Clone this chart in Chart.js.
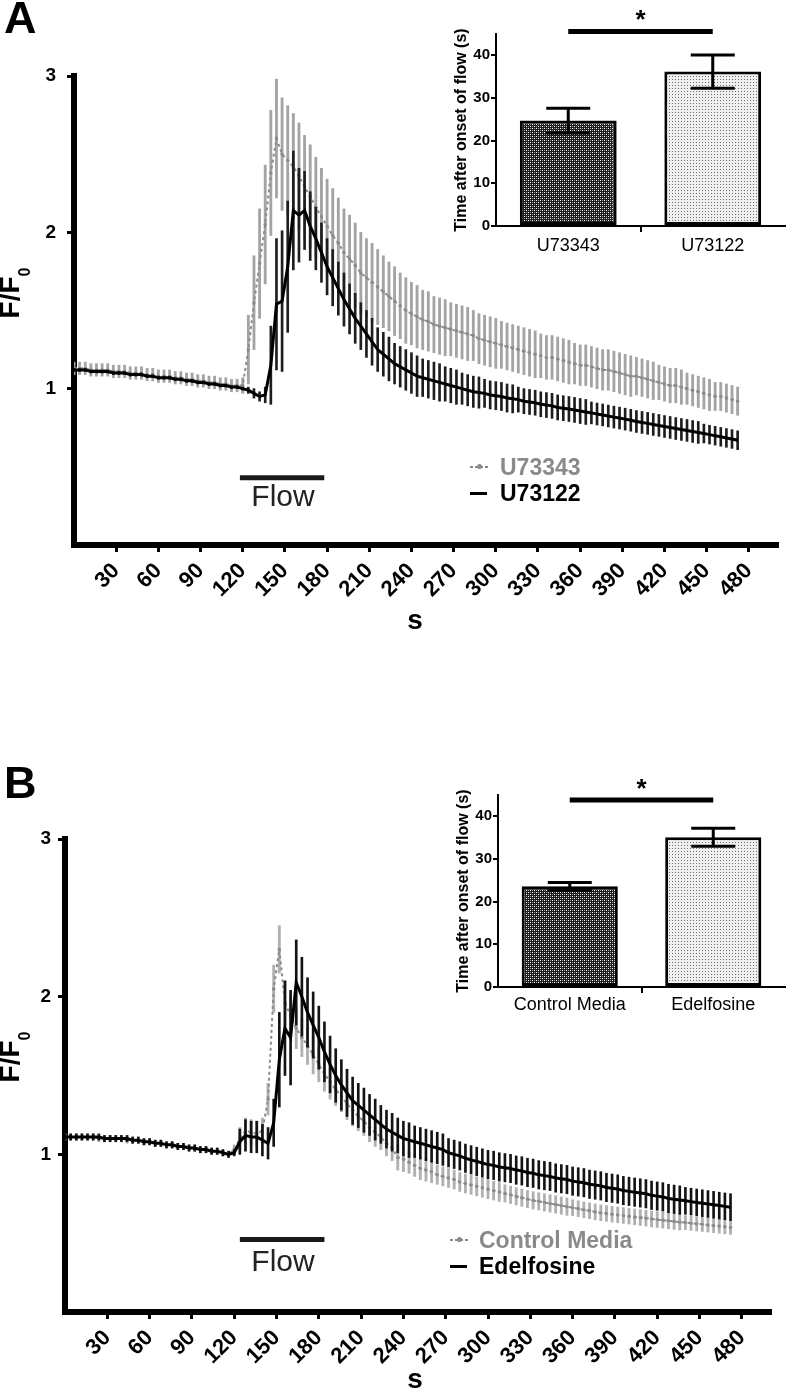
<!DOCTYPE html>
<html>
<head>
<meta charset="utf-8">
<title>F/F0 after flow</title>
<script src="https://cdn.jsdelivr.net/npm/chart.js@4.4.1/dist/chart.umd.min.js"></script>
<style>
  html, body { margin: 0; padding: 0; background: #fff; }
  body { width: 787px; height: 1390px; position: relative; overflow: hidden;
         font-family: "Liberation Sans", Arial, sans-serif; }
  canvas { position: absolute; }
  .txt { position: absolute; line-height: 1; white-space: nowrap; color: #000; }
  .letter { font-size: 45px; font-weight: bold; }
  .ytitle { font-size: 28px; font-weight: bold; line-height: 32px;
            transform: translate(-50%, -50%) rotate(-90deg); }
  .ytitle span { font-size: 16px; position: relative; top: 11px; }
  .xtitle { font-size: 28px; font-weight: bold; transform: translateX(-50%); }
  .flow { font-size: 30px; color: #222; transform: translateX(-50%); }
  .leg { font-size: 23px; font-weight: bold; }
  .mkg { position: absolute; width: 18px; height: 2px;
         background: repeating-linear-gradient(90deg, #8a8a8a 0 3px, transparent 3px 5px); }
  .mkg::after { content: ""; position: absolute; left: 7px; top: -2px; width: 5px; height: 5px;
                border-radius: 50%; background: #8a8a8a; }
  .mkb { position: absolute; width: 17px; height: 3px; background: #000; }
</style>
</head>
<body>
<canvas id="mainA" style="left:0;top:0" width="787" height="700"></canvas>
<canvas id="insetA" style="left:440px;top:0" width="347" height="270"></canvas>
<canvas id="mainB" style="left:0;top:760px" width="787" height="630"></canvas>
<canvas id="insetB" style="left:440px;top:760px" width="347" height="270"></canvas>

<div class="txt letter" style="left:4px;top:-5px">A</div>
<div class="txt ytitle" style="left:12px;top:293px">F/F<span>0</span></div>
<div class="txt xtitle" style="left:415px;top:606px">s</div>
<div class="txt flow" style="left:283px;top:481px">Flow</div>
<div class="mkg" style="left:470px;top:466px"></div>
<div class="txt leg" style="left:500px;top:456px;color:#8a8a8a">U73343</div>
<div class="mkb" style="left:470px;top:492px"></div>
<div class="txt leg" style="left:500px;top:482px">U73122</div>

<div class="txt letter" style="left:4px;top:760px">B</div>
<div class="txt ytitle" style="left:12px;top:1057px">F/F<span>0</span></div>
<div class="txt xtitle" style="left:415px;top:1365px">s</div>
<div class="txt flow" style="left:283px;top:1246px">Flow</div>
<div class="mkg" style="left:450px;top:1239px"></div>
<div class="txt leg" style="left:479px;top:1229px;color:#8a8a8a">Control Media</div>
<div class="mkb" style="left:450px;top:1265px"></div>
<div class="txt leg" style="left:479px;top:1255px">Edelfosine</div>

<script>
// time points (s) of the traces
const seconds = [0,4,8,12,16,20,24,28,32,36,
  40,44,48,52,56,60,64,68,72,76,
  80,84,88,92,96,100,104,108,112,116,
  120,124,128,132,136,140,144,148,152,156,
  160,164,168,172,176,180,184,188,192,196,
  200,204,208,212,216,220,224,228,232,236,
  240,244,248,252,256,260,264,268,272,276,
  280,284,288,292,296,300,304,308,312,316,
  320,324,328,332,336,340,344,348,352,356,
  360,364,368,372,376,380,384,388,392,396,
  400,404,408,412,416,420,424,428,432,436,
  440,444,448,452,456,460,464,468,472];

// panel A
const u73343Mean = [1.13,1.13,1.13,1.12,1.12,1.12,1.12,1.11,1.11,1.11,
  1.10,1.10,1.10,1.09,1.09,1.08,1.08,1.08,1.07,1.07,
  1.06,1.06,1.05,1.05,1.04,1.04,1.03,1.03,1.02,1.02,
  1.02,1.25,1.55,1.80,2.05,2.38,2.60,2.50,2.46,2.42,
  2.36,2.29,2.23,2.16,2.10,2.04,1.98,1.93,1.87,1.83,
  1.79,1.74,1.71,1.68,1.65,1.62,1.59,1.56,1.53,1.50,
  1.48,1.46,1.44,1.43,1.41,1.40,1.39,1.38,1.37,1.36,
  1.35,1.34,1.32,1.31,1.30,1.29,1.28,1.27,1.26,1.25,
  1.24,1.23,1.22,1.21,1.20,1.20,1.19,1.18,1.17,1.16,
  1.15,1.15,1.14,1.13,1.12,1.12,1.11,1.10,1.09,1.08,
  1.08,1.07,1.06,1.05,1.04,1.03,1.02,1.02,1.01,1.00,
  0.99,0.98,0.97,0.96,0.95,0.95,0.94,0.93,0.92];
const u73343Sem = [0.04,0.04,0.04,0.04,0.04,0.04,0.04,0.04,0.04,0.04,
  0.04,0.04,0.04,0.04,0.04,0.04,0.04,0.04,0.04,0.04,
  0.04,0.04,0.04,0.04,0.04,0.04,0.04,0.04,0.04,0.04,
  0.05,0.22,0.30,0.35,0.38,0.40,0.38,0.36,0.35,0.34,
  0.34,0.33,0.33,0.32,0.31,0.30,0.30,0.29,0.28,0.28,
  0.27,0.26,0.25,0.25,0.24,0.23,0.22,0.22,0.21,0.21,
  0.20,0.20,0.19,0.19,0.18,0.18,0.18,0.17,0.17,0.17,
  0.17,0.16,0.16,0.16,0.16,0.16,0.15,0.15,0.15,0.15,
  0.15,0.15,0.15,0.14,0.14,0.14,0.14,0.14,0.14,0.13,
  0.13,0.13,0.13,0.13,0.13,0.13,0.13,0.13,0.13,0.13,
  0.12,0.12,0.12,0.12,0.11,0.11,0.11,0.11,0.11,0.10,
  0.10,0.10,0.10,0.10,0.09,0.09,0.09,0.09,0.09];
const u73122Mean = [1.12,1.12,1.12,1.11,1.11,1.11,1.11,1.10,1.10,1.10,
  1.09,1.09,1.09,1.08,1.08,1.07,1.07,1.07,1.06,1.06,
  1.05,1.05,1.04,1.04,1.03,1.03,1.02,1.02,1.01,1.01,
  1.00,0.99,0.97,0.95,0.96,1.15,1.54,1.56,1.78,2.14,
  2.11,2.14,2.04,1.96,1.87,1.78,1.71,1.64,1.57,1.51,
  1.45,1.40,1.35,1.30,1.25,1.22,1.19,1.16,1.14,1.12,
  1.10,1.08,1.07,1.06,1.05,1.04,1.03,1.02,1.01,1.00,
  0.99,0.98,0.975,0.97,0.96,0.955,0.95,0.94,0.935,0.93,
  0.92,0.915,0.91,0.90,0.895,0.89,0.88,0.875,0.87,0.864,
  0.857,0.851,0.845,0.838,0.832,0.825,0.818,0.812,0.805,0.798,
  0.79,0.784,0.778,0.771,0.765,0.758,0.752,0.745,0.739,0.733,
  0.726,0.72,0.713,0.706,0.699,0.692,0.685,0.678,0.67];
const u73122Sem = [0.01,0.01,0.01,0.01,0.01,0.01,0.01,0.01,0.01,0.01,
  0.01,0.01,0.01,0.01,0.01,0.01,0.01,0.01,0.01,0.01,
  0.01,0.01,0.01,0.01,0.01,0.01,0.01,0.01,0.01,0.01,
  0.01,0.02,0.03,0.03,0.05,0.25,0.42,0.45,0.42,0.38,
  0.30,0.25,0.22,0.20,0.19,0.18,0.18,0.17,0.17,0.16,
  0.16,0.15,0.15,0.15,0.14,0.14,0.14,0.13,0.13,0.13,
  0.13,0.13,0.12,0.12,0.12,0.12,0.11,0.11,0.11,0.10,
  0.10,0.10,0.10,0.09,0.09,0.09,0.09,0.09,0.09,0.08,
  0.08,0.08,0.08,0.08,0.08,0.08,0.08,0.08,0.08,0.08,
  0.08,0.08,0.07,0.07,0.07,0.07,0.07,0.07,0.07,0.07,
  0.07,0.07,0.07,0.07,0.07,0.07,0.07,0.07,0.07,0.07,
  0.07,0.07,0.06,0.06,0.06,0.06,0.06,0.06,0.06];

// panel B
const controlMean = [1.11,1.11,1.11,1.11,1.11,1.11,1.10,1.10,1.10,1.10,
  1.10,1.09,1.09,1.09,1.08,1.08,1.07,1.07,1.06,1.06,
  1.05,1.05,1.04,1.04,1.03,1.03,1.02,1.02,1.01,1.00,
  1.03,1.10,1.15,1.14,1.13,1.15,1.35,2.05,2.30,1.96,
  1.88,1.80,1.74,1.69,1.63,1.57,1.51,1.46,1.41,1.37,
  1.32,1.28,1.24,1.21,1.17,1.14,1.11,1.07,1.04,0.98,
  0.97,0.95,0.93,0.91,0.90,0.89,0.87,0.86,0.85,0.84,
  0.825,0.815,0.806,0.797,0.788,0.779,0.77,0.761,0.752,0.743,
  0.734,0.725,0.716,0.708,0.702,0.695,0.688,0.682,0.675,0.668,
  0.662,0.655,0.648,0.642,0.635,0.629,0.625,0.62,0.616,0.612,
  0.608,0.603,0.599,0.595,0.59,0.586,0.582,0.578,0.574,0.57,
  0.567,0.563,0.559,0.556,0.552,0.548,0.545,0.541,0.537];
const controlSem = [0.02,0.02,0.02,0.02,0.02,0.02,0.02,0.02,0.02,0.02,
  0.02,0.02,0.02,0.02,0.02,0.02,0.02,0.02,0.02,0.02,
  0.02,0.02,0.02,0.02,0.02,0.02,0.02,0.02,0.02,0.02,
  0.03,0.07,0.08,0.08,0.08,0.08,0.10,0.15,0.15,0.14,
  0.13,0.13,0.12,0.12,0.12,0.11,0.11,0.11,0.10,0.10,
  0.10,0.10,0.09,0.09,0.09,0.09,0.08,0.08,0.08,0.08,
  0.08,0.07,0.07,0.07,0.07,0.07,0.06,0.06,0.06,0.06,
  0.06,0.06,0.06,0.06,0.06,0.06,0.06,0.06,0.055,0.055,
  0.055,0.055,0.055,0.055,0.055,0.055,0.055,0.055,0.055,0.055,
  0.05,0.05,0.05,0.05,0.05,0.05,0.05,0.05,0.05,0.05,
  0.05,0.05,0.05,0.05,0.05,0.05,0.05,0.05,0.05,0.05,
  0.045,0.045,0.045,0.045,0.045,0.045,0.045,0.045,0.045];
const edelfosineMean = [1.11,1.11,1.11,1.11,1.11,1.11,1.11,1.10,1.10,1.10,
  1.10,1.10,1.09,1.09,1.08,1.08,1.07,1.07,1.06,1.06,
  1.05,1.05,1.04,1.04,1.03,1.03,1.02,1.02,1.01,1.00,
  1.01,1.08,1.12,1.11,1.11,1.09,1.07,1.20,1.60,1.80,
  1.74,2.09,2.00,1.90,1.82,1.74,1.65,1.57,1.50,1.44,
  1.39,1.34,1.31,1.28,1.25,1.22,1.19,1.16,1.14,1.12,
  1.10,1.09,1.08,1.07,1.06,1.05,1.04,1.03,1.01,1.00,
  0.99,0.975,0.965,0.955,0.945,0.935,0.93,0.92,0.915,0.91,
  0.90,0.895,0.885,0.88,0.87,0.865,0.86,0.85,0.845,0.84,
  0.83,0.825,0.82,0.81,0.805,0.80,0.79,0.785,0.78,0.77,
  0.765,0.76,0.755,0.75,0.74,0.735,0.73,0.72,0.715,0.71,
  0.705,0.70,0.695,0.69,0.685,0.68,0.675,0.67,0.665];
const edelfosineSem = [0.02,0.02,0.02,0.02,0.02,0.02,0.02,0.02,0.02,0.02,
  0.02,0.02,0.02,0.02,0.02,0.02,0.02,0.02,0.02,0.02,
  0.02,0.02,0.02,0.02,0.02,0.02,0.02,0.02,0.02,0.02,
  0.02,0.08,0.10,0.10,0.10,0.10,0.10,0.15,0.30,0.30,
  0.30,0.27,0.25,0.22,0.21,0.20,0.19,0.18,0.17,0.16,
  0.15,0.15,0.14,0.14,0.13,0.13,0.12,0.12,0.12,0.11,
  0.11,0.11,0.10,0.10,0.10,0.10,0.10,0.10,0.09,0.09,
  0.09,0.09,0.09,0.09,0.09,0.09,0.09,0.09,0.09,0.09,
  0.09,0.09,0.09,0.09,0.09,0.09,0.09,0.09,0.09,0.09,
  0.09,0.09,0.09,0.09,0.09,0.09,0.09,0.09,0.09,0.09,
  0.09,0.09,0.09,0.09,0.09,0.09,0.09,0.09,0.09,0.09,
  0.085,0.085,0.085,0.085,0.085,0.085,0.085,0.085,0.085];

// flow period bars
const flowSpanA = [118, 178];
const flowLevelA = 0.43;
const flowSpanB = [124, 184];
const flowLevelB = 0.46;

// axis ticks
const timeTicks = [30,60,90,120,150,180,210,240,270,300,330,360,390,420,450,480];
const ratioTicks = [1, 2, 3];
const onsetTicks = [0, 10, 20, 30, 40];

// insets: time after onset of flow (s)
const insetLabelsA = ['U73343', 'U73122'];
const insetMeanA = [24.7, 36.2];
const insetSemA = [2.9, 3.9];
const insetLabelsB = ['Control Media', 'Edelfosine'];
const insetMeanB = [23.6, 35.1];
const insetSemB = [0.9, 2.1];

const FONT = '"Liberation Sans", Arial, sans-serif';
Chart.defaults.font.family = FONT;
Chart.defaults.color = '#000';

function points(values) {
  return seconds.map((t, i) => ({ x: t, y: values[i] }));
}
function ranges(values, sem) {
  return seconds.map((t, i) => ({ x: t, y: [values[i] - sem[i], values[i] + sem[i]] }));
}
function flowLine(span, level) {
  return span.map(t => ({ x: t, y: level }));
}

function traceDatasets(grayMean, graySem, blackMean, blackSem, flowSpan, flowLevel, grayBar, blackBar) {
  return [
    { type: 'line', data: flowLine(flowSpan, flowLevel), borderColor: '#1a1a1a', borderWidth: 5,
      pointRadius: 0, order: 0 },
    { type: 'line', data: points(blackMean), borderColor: '#000', borderWidth: 3,
      pointRadius: 0, order: 1 },
    { type: 'bar', data: ranges(blackMean, blackSem), backgroundColor: blackBar, borderWidth: 0,
      barThickness: 2, grouped: false, order: 2 },
    { type: 'line', data: points(grayMean), borderColor: '#8c8c8c', borderWidth: 2, borderDash: [3, 3],
      pointRadius: 1.7, pointBackgroundColor: '#8c8c8c', pointBorderWidth: 0, order: 3 },
    { type: 'bar', data: ranges(grayMean, graySem), backgroundColor: grayBar, borderWidth: 0,
      barThickness: 2.2, grouped: false, order: 4 }
  ];
}

function mainOptions(c) {
  return {
    responsive: false,
    animation: false,
    events: [],
    layout: { padding: c.padding },
    plugins: { legend: { display: false }, tooltip: { enabled: false } },
    scales: {
      x: {
        type: 'linear', min: 0, max: 500, offset: false,
        afterBuildTicks: s => { s.ticks = timeTicks.map(v => ({ value: v })); },
        afterFit: s => { s.height = c.xHeight; },
        grid: { display: true, drawOnChartArea: false, offset: false, color: '#000',
                lineWidth: 3, tickLength: 7 },
        border: { display: true, color: '#000', width: 6 },
        ticks: { color: '#000', font: { size: 22, weight: 'bold' }, minRotation: 45, maxRotation: 45,
                 autoSkip: false, padding: c.xPad }
      },
      y: {
        type: 'linear', min: 0, max: 3,
        afterBuildTicks: s => { s.ticks = ratioTicks.map(v => ({ value: v })); },
        afterFit: s => { s.width = c.yWidth; },
        grid: { display: true, drawOnChartArea: false, color: '#000', lineWidth: 3, tickLength: 7 },
        border: { display: true, color: '#000', width: 6 },
        ticks: { color: '#000', font: { size: 19, weight: 'bold' }, padding: c.yPad }
      }
    }
  };
}

new Chart(document.getElementById('mainA'), {
  type: 'line',
  data: { datasets: traceDatasets(u73343Mean, u73343Sem, u73122Mean, u73122Sem,
                                  flowSpanA, flowLevelA, '#a4a4a4', '#1e1e1e') },
  options: mainOptions({ padding: { left: 40, right: 10, top: 76, bottom: 85 },
                         xHeight: 70, yWidth: 34, xPad: 6, yPad: 11 })
});

new Chart(document.getElementById('mainB'), {
  type: 'line',
  data: { datasets: traceDatasets(controlMean, controlSem, edelfosineMean, edelfosineSem,
                                  flowSpanB, flowLevelB, '#b0b0b0', '#141414') },
  options: mainOptions({ padding: { left: 35, right: 17, top: 79, bottom: 8 },
                         xHeight: 70, yWidth: 30, xPad: 6, yPad: 7 })
});

// hatch fills of the inset bars
function makePattern(bg, dots, size) {
  const c = document.createElement('canvas');
  c.width = size; c.height = size;
  const g = c.getContext('2d');
  g.fillStyle = bg;
  g.fillRect(0, 0, size, size);
  dots.forEach(d => { g.fillStyle = d[2]; g.fillRect(d[0], d[1], 1, 1); });
  return g.createPattern(c, 'repeat');
}
const darkFill = makePattern('#1e1e1e', [[0, 0, '#fff'], [2, 2, '#fff'], [2, 0, '#9a9a9a'], [0, 2, '#9a9a9a']], 4);
const lightFill = makePattern('#f0f0f0', [[1, 1, '#6a6a6a']], 3);

const insetMarks = {
  id: 'insetMarks',
  afterDatasetsDraw(chart, args, opts) {
    const { ctx, scales: { x, y } } = chart;
    const ds = chart.data.datasets[0];
    ctx.save();
    ctx.strokeStyle = '#000';
    ctx.lineWidth = 3;
    ds.data.forEach((m, i) => {
      const px = x.getPixelForValue(i);
      const top = y.getPixelForValue(m + ds.errors[i]);
      const bot = y.getPixelForValue(m - ds.errors[i]);
      ctx.beginPath();
      ctx.moveTo(px, top); ctx.lineTo(px, bot);
      ctx.moveTo(px - 22, top); ctx.lineTo(px + 22, top);
      ctx.moveTo(px - 22, bot); ctx.lineTo(px + 22, bot);
      ctx.stroke();
    });
    const x0 = x.getPixelForValue(0);
    const x1 = x.getPixelForValue(1);
    const ys = y.getPixelForValue(opts.sigLevel);
    ctx.lineWidth = 5;
    ctx.beginPath(); ctx.moveTo(x0, ys); ctx.lineTo(x1, ys); ctx.stroke();
    ctx.fillStyle = '#000';
    ctx.font = 'bold 26px ' + FONT;
    ctx.textAlign = 'center';
    ctx.textBaseline = 'alphabetic';
    ctx.fillText('*', (x0 + x1) / 2, y.getPixelForValue(opts.starLevel) + 15);
    ctx.restore();
  }
};

function insetChart(id, labels, means, sems, c) {
  return new Chart(document.getElementById(id), {
    type: 'bar',
    data: {
      labels: labels,
      datasets: [{ data: means, errors: sems, backgroundColor: [darkFill, lightFill],
                   borderColor: '#000', borderWidth: 3, borderSkipped: false,
                   barPercentage: 0.67, categoryPercentage: 1 }]
    },
    options: {
      responsive: false,
      animation: false,
      events: [],
      layout: { padding: c.padding },
      plugins: { legend: { display: false }, tooltip: { enabled: false },
                 insetMarks: { sigLevel: c.sigLevel, starLevel: c.starLevel } },
      scales: {
        x: {
          afterFit: s => { s.height = c.xHeight; },
          grid: { display: true, drawOnChartArea: false, offset: true, lineWidth: 2, tickLength: 6,
                  color: g => (g.index === 1 ? '#000' : 'rgba(0,0,0,0)') },
          border: { display: true, color: '#000', width: 2 },
          ticks: { color: '#000', font: { size: 18 }, padding: c.xPad }
        },
        y: {
          min: 0, max: 45,
          afterBuildTicks: s => { s.ticks = onsetTicks.map(v => ({ value: v })); },
          afterFit: s => { s.width = c.yWidth; },
          grid: { display: true, drawOnChartArea: false, color: '#000', lineWidth: 2, tickLength: 5 },
          border: { display: true, color: '#000', width: 2 },
          ticks: { color: '#000', font: { size: 15, weight: 'bold' }, padding: 1 },
          title: { display: true, text: 'Time after onset of flow (s)', color: '#000',
                   font: { size: 16, weight: 'bold' }, padding: { top: c.titlePad, bottom: 0 } }
        }
      }
    },
    plugins: [insetMarks]
  });
}

insetChart('insetA', insetLabelsA, insetMeanA, insetSemA,
  { padding: { left: 0, right: 2, top: 34, bottom: 0 }, xHeight: 44, yWidth: 56,
    xPad: 3, titlePad: 12, sigLevel: 45.6, starLevel: 50 });
insetChart('insetB', insetLabelsB, insetMeanB, insetSemB,
  { padding: { left: 0, right: 2, top: 35, bottom: 0 }, xHeight: 43, yWidth: 58,
    xPad: 1, titlePad: 14, sigLevel: 43.8, starLevel: 48 });
</script>
</body>
</html>
